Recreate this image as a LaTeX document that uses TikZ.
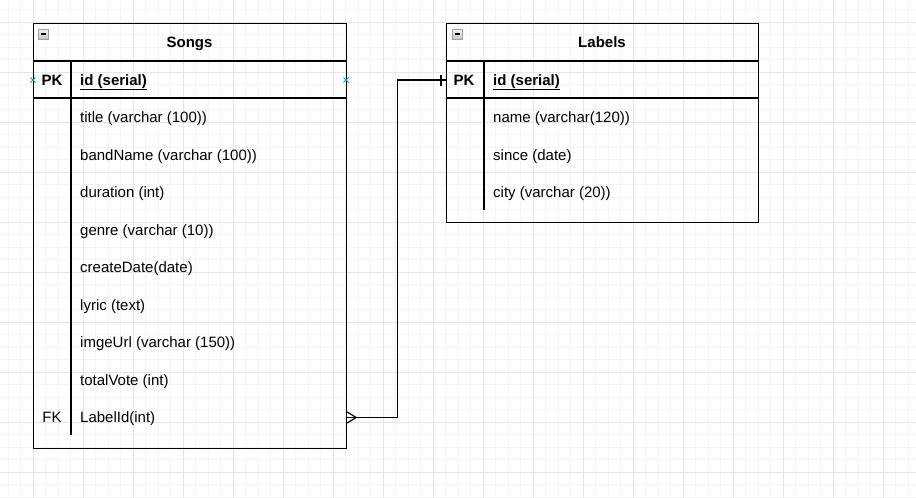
\documentclass[tikz,border=0pt]{standalone}
\usepackage{fontspec}
\setmainfont{Liberation Sans}

\begin{document}
\begin{tikzpicture}[x=1pt, y=-1pt,
  tbl/.style={shape=rectangle, draw, line width=1.2pt, inner sep=0pt, anchor=north west},
  fld/.style={inner sep=0pt, anchor=west, text height=13pt, text depth=3pt, font=\fontsize{15}{18}\selectfont},
  keyfld/.style={fld, font=\fontsize{15}{18}\selectfont\bfseries},
  ttl/.style={keyfld, anchor=center},
  rule/.style={line width=1.2pt},
  conn/.style={line width=1.2pt},
  minor/.style={draw=gray!9, line width=0.8pt},
  major/.style={draw=gray!20, line width=0.8pt},
  pin/.style={draw=cyan!80!blue, line width=0.9pt},
  icon/.style={draw=gray!75, line width=0.6pt, top color=gray!8, bottom color=gray!45}]
\useasboundingbox (0,0) rectangle (916,498);
\fill[white] (0,0) rectangle (916,498);

% grid
\foreach \i in {-2,...,71} \draw[minor] ({33+12.5*\i},0) -- ++(0,498);
\foreach \j in {-1,...,38} \draw[minor] (0,{22+12.5*\j}) -- ++(916,0);
\foreach \i in {0,...,17} \draw[major] ({33+50*\i},0) -- ++(0,498);
\foreach \j in {0,...,9} \draw[major] (0,{22+50*\j}) -- ++(916,0);

% Songs
\node [tbl, minimum width=313pt, minimum height=425pt] (S) at (33,23) {};
\draw[rule] (33,61) -- (346,61);
\draw[rule] (33,98) -- (346,98);
\draw[rule] (71,61) -- (71,435);
\node [ttl] (S0) at (189.5,42) {Songs};
\node [keyfld, anchor=center] (Sk) at (52,80) {PK};
\node [keyfld] (S1) at (80,80) {\underline{id (serial)}};
\node [fld] (S2) at (80,117.5) {title (varchar (100))};
\node [fld] (S3) at (80,155) {bandName (varchar (100))};
\node [fld] (S4) at (80,192.5) {duration (int)};
\node [fld] (S5) at (80,230) {genre (varchar (10))};
\node [fld] (S6) at (80,267.5) {createDate(date)};
\node [fld] (S7) at (80,305) {lyric (text)};
\node [fld] (S8) at (80,342.5) {imgeUrl (varchar (150))};
\node [fld] (S9) at (80,380) {totalVote (int)};
\node [fld, anchor=center] (Sf) at (52,417.5) {FK};
\node [fld] (S10) at (80,417.5) {LabelId(int)};

% Labels
\node [tbl, minimum width=312pt, minimum height=199pt] (L) at (446,23) {};
\draw[rule] (446,61) -- (758,61);
\draw[rule] (446,98) -- (758,98);
\draw[rule] (484,61) -- (484,210);
\node [ttl] (L0) at (602,42) {Labels};
\node [keyfld, anchor=center] (Lk) at (464,80) {PK};
\node [keyfld] (L1) at (493,80) {\underline{id (serial)}};
\node [fld] (L2) at (493,117.5) {name (varchar(120))};
\node [fld] (L3) at (493,155) {since (date)};
\node [fld] (L4) at (493,192.5) {city (varchar (20))};

% collapse icons
\draw[icon] (38,29) rectangle (48,39);
\draw[line width=1.2pt] (40.5,34) -- (45.5,34);
\draw[icon] (452,29) rectangle (462,39);
\draw[line width=1.2pt] (454.5,34) -- (459.5,34);

% connection points
\draw[pin] (30.5,77.5) -- (35.5,82.5) (30.5,82.5) -- (35.5,77.5);
\draw[pin] (343.5,77.5) -- (348.5,82.5) (343.5,82.5) -- (348.5,77.5);

% relation
\path (S.east |- S10) coordinate (sfk) (L.west |- L1) coordinate (lpk);
\draw[conn] (sfk) -- ++(50,0) |- (lpk);
\draw[conn] (sfk) ++(0,-5.5) -- ++(9,5.5) -- ++(-9,5.5);
\draw[conn] ([xshift=-5pt]lpk) ++(0,-5.5) -- ++(0,11);
\end{tikzpicture}
\end{document}
